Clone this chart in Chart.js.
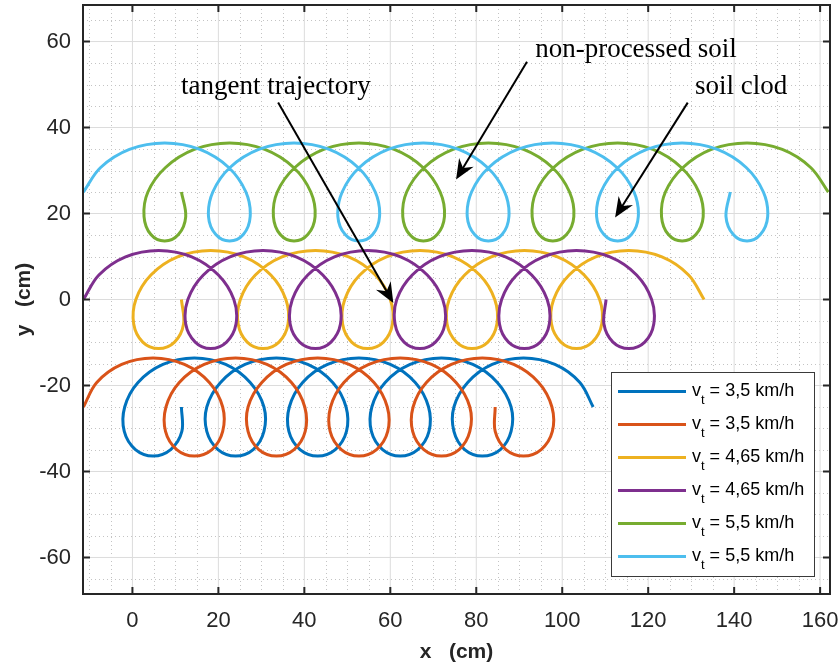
<!DOCTYPE html>
<html>
<head>
<meta charset="utf-8">
<title>Blade trajectories</title>
<script src="https://cdn.jsdelivr.net/npm/chart.js@4/dist/chart.umd.min.js"></script>
<style>
  html, body { margin: 0; padding: 0; background: #fff; }
  #wrap { width: 840px; height: 667px; }
</style>
</head>
<body>
<div id="wrap"><canvas id="chart" width="840" height="667"></canvas></div>
<script>
// tractor speed for each curve (legend text)
const speedLabels = ["3,5", "3,5", "4,65", "4,65", "5,5", "5,5"];
const colors = ["#0072BD", "#D95319", "#EDB120", "#7E2F8E", "#77AC30", "#4DBEEE"];

const xTicks = [0, 20, 40, 60, 80, 100, 120, 140, 160];
const yTicks = [-60, -40, -20, 0, 20, 40, 60];

// points (cm), 12 per blade turn
const blueX = [
  11.4, 11.5, 8.9, 4.8, 0.7, -1.9, -1.8, 1.3, 7.1, 14.4, 21.7, 27.4,
  30.6, 30.6, 28.1, 24.0, 19.9, 17.3, 17.3, 20.5, 26.2, 33.5, 40.8, 46.6,
  49.7, 49.8, 47.2, 43.1, 39.0, 36.4, 36.5, 39.6, 45.4, 52.7, 60.0, 65.8,
  68.9, 69.0, 66.4, 62.3, 58.2, 55.6, 55.7, 58.8, 64.6, 71.9, 79.2, 84.9,
  88.1, 88.1, 85.6, 81.4, 77.3, 74.8, 74.8, 78.0, 83.7, 91.0, 98.3, 104.1,
  107.2];
const blueY = [
  -25, -30.7, -34.9, -36.4, -34.9, -30.7, -25, -19.3, -15.1, -13.6, -15.1, -19.3,
  -25, -30.7, -34.9, -36.4, -34.9, -30.7, -25, -19.3, -15.1, -13.6, -15.1, -19.3,
  -25, -30.7, -34.9, -36.4, -34.9, -30.7, -25, -19.3, -15.1, -13.6, -15.1, -19.3,
  -25, -30.7, -34.9, -36.4, -34.9, -30.7, -25, -19.3, -15.1, -13.6, -15.1, -19.3,
  -25, -30.7, -34.9, -36.4, -34.9, -30.7, -25, -19.3, -15.1, -13.6, -15.1, -19.3,
  -25];

const orangeX = [
  -11.4, -8.3, -2.5, 4.8, 12.1, 17.9, 21.0, 21.0, 18.5, 14.4, 10.3, 7.7,
  7.8, 10.9, 16.7, 24.0, 31.3, 37.0, 40.1, 40.2, 37.6, 33.5, 29.4, 26.9,
  26.9, 30.1, 35.8, 43.1, 50.4, 56.2, 59.3, 59.4, 56.8, 52.7, 48.6, 46.0,
  46.1, 49.2, 55.0, 62.3, 69.6, 75.3, 78.5, 78.5, 76.0, 71.9, 67.8, 65.2,
  65.3, 68.4, 74.2, 81.4, 88.7, 94.5, 97.6, 97.7, 95.1, 91.0, 86.9, 84.4,
  84.4];
const orangeY = [
  -25, -19.3, -15.1, -13.6, -15.1, -19.3, -25, -30.7, -34.9, -36.4, -34.9, -30.7,
  -25, -19.3, -15.1, -13.6, -15.1, -19.3, -25, -30.7, -34.9, -36.4, -34.9, -30.7,
  -25, -19.3, -15.1, -13.6, -15.1, -19.3, -25, -30.7, -34.9, -36.4, -34.9, -30.7,
  -25, -19.3, -15.1, -13.6, -15.1, -19.3, -25, -30.7, -34.9, -36.4, -34.9, -30.7,
  -25, -19.3, -15.1, -13.6, -15.1, -19.3, -25, -30.7, -34.9, -36.4, -34.9, -30.7,
  -25];

const yellowX = [
  11.4, 11.9, 9.8, 6.1, 2.4, 0.3, 0.8, 4.3, 10.5, 18.2, 26.0, 32.2,
  35.7, 36.2, 34.1, 30.4, 26.7, 24.6, 25.1, 28.6, 34.8, 42.6, 50.3, 56.5,
  60.0, 60.5, 58.4, 54.7, 51.0, 48.9, 49.4, 52.9, 59.1, 66.9, 74.6, 80.8,
  84.3, 84.8, 82.7, 79.0, 75.4, 73.2, 73.7, 77.3, 83.5, 91.2, 98.9, 105.1,
  108.7, 109.2, 107.0, 103.3, 99.7, 97.5, 98.0, 101.6, 107.8, 115.5, 123.2, 129.4,
  133.0];
const yellowY = [
  0, -5.7, -9.9, -11.4, -9.9, -5.7, 0, 5.7, 9.9, 11.4, 9.9, 5.7,
  0, -5.7, -9.9, -11.4, -9.9, -5.7, 0, 5.7, 9.9, 11.4, 9.9, 5.7,
  0, -5.7, -9.9, -11.4, -9.9, -5.7, 0, 5.7, 9.9, 11.4, 9.9, 5.7,
  0, -5.7, -9.9, -11.4, -9.9, -5.7, 0, 5.7, 9.9, 11.4, 9.9, 5.7,
  0, -5.7, -9.9, -11.4, -9.9, -5.7, 0, 5.7, 9.9, 11.4, 9.9, 5.7,
  0];

const purpleX = [
  -11.4, -7.8, -1.6, 6.1, 13.8, 20.0, 23.6, 24.1, 21.9, 18.2, 14.6, 12.4,
  12.9, 16.5, 22.7, 30.4, 38.1, 44.3, 47.9, 48.4, 46.2, 42.6, 38.9, 36.7,
  37.2, 40.8, 47.0, 54.7, 62.4, 68.6, 72.2, 72.7, 70.5, 66.9, 63.2, 61.1,
  61.5, 65.1, 71.3, 79.0, 86.8, 92.9, 96.5, 97.0, 94.9, 91.2, 87.5, 85.4,
  85.9, 89.4, 95.6, 103.3, 111.1, 117.3, 120.8, 121.3, 119.2, 115.5, 111.8, 109.7,
  110.2];
const purpleY = [
  0, 5.7, 9.9, 11.4, 9.9, 5.7, 0, -5.7, -9.9, -11.4, -9.9, -5.7,
  0, 5.7, 9.9, 11.4, 9.9, 5.7, 0, -5.7, -9.9, -11.4, -9.9, -5.7,
  0, 5.7, 9.9, 11.4, 9.9, 5.7, 0, -5.7, -9.9, -11.4, -9.9, -5.7,
  0, 5.7, 9.9, 11.4, 9.9, 5.7, 0, -5.7, -9.9, -11.4, -9.9, -5.7,
  0, 5.7, 9.9, 11.4, 9.9, 5.7, 0, -5.7, -9.9, -11.4, -9.9, -5.7,
  0];

const greenX = [
  11.4, 12.4, 10.7, 7.5, 4.3, 2.7, 3.6, 7.7, 14.4, 22.6, 30.8, 37.5,
  41.5, 42.5, 40.8, 37.6, 34.4, 32.8, 33.7, 37.8, 44.5, 52.7, 60.9, 67.6,
  71.6, 72.6, 70.9, 67.7, 64.5, 62.9, 63.8, 67.9, 74.6, 82.8, 91.0, 97.7,
  101.7, 102.7, 101.0, 97.8, 94.6, 93.0, 93.9, 98.0, 104.7, 112.9, 121.1, 127.7,
  131.8, 132.8, 131.1, 127.9, 124.7, 123.1, 124.0, 128.1, 134.7, 143.0, 151.2, 157.8,
  161.9];
const greenY = [
  25, 19.3, 15.1, 13.6, 15.1, 19.3, 25, 30.7, 34.9, 36.4, 34.9, 30.7,
  25, 19.3, 15.1, 13.6, 15.1, 19.3, 25, 30.7, 34.9, 36.4, 34.9, 30.7,
  25, 19.3, 15.1, 13.6, 15.1, 19.3, 25, 30.7, 34.9, 36.4, 34.9, 30.7,
  25, 19.3, 15.1, 13.6, 15.1, 19.3, 25, 30.7, 34.9, 36.4, 34.9, 30.7,
  25, 19.3, 15.1, 13.6, 15.1, 19.3, 25, 30.7, 34.9, 36.4, 34.9, 30.7,
  25];

const cyanX = [
  -11.4, -7.4, -0.7, 7.5, 15.7, 22.4, 26.4, 27.4, 25.8, 22.6, 19.4, 17.7,
  18.7, 22.7, 29.4, 37.6, 45.8, 52.5, 56.5, 57.5, 55.9, 52.7, 49.5, 47.8,
  48.8, 52.8, 59.5, 67.7, 75.9, 82.6, 86.6, 87.6, 86.0, 82.8, 79.6, 77.9,
  78.9, 82.9, 89.6, 97.8, 106.0, 112.7, 116.7, 117.7, 116.1, 112.9, 109.7, 108.0,
  109.0, 113.0, 119.7, 127.9, 136.1, 142.8, 146.8, 147.8, 146.1, 143.0, 139.8, 138.1,
  139.1];
const cyanY = [
  25, 30.7, 34.9, 36.4, 34.9, 30.7, 25, 19.3, 15.1, 13.6, 15.1, 19.3,
  25, 30.7, 34.9, 36.4, 34.9, 30.7, 25, 19.3, 15.1, 13.6, 15.1, 19.3,
  25, 30.7, 34.9, 36.4, 34.9, 30.7, 25, 19.3, 15.1, 13.6, 15.1, 19.3,
  25, 30.7, 34.9, 36.4, 34.9, 30.7, 25, 19.3, 15.1, 13.6, 15.1, 19.3,
  25, 30.7, 34.9, 36.4, 34.9, 30.7, 25, 19.3, 15.1, 13.6, 15.1, 19.3,
  25];

const seriesX = [blueX, orangeX, yellowX, purpleX, greenX, cyanX];
const seriesY = [blueY, orangeY, yellowY, purpleY, greenY, cyanY];

// text arrows: label position and arrow start/tip in data units
const notes = [
  { text: "tangent trajectory", tx: 11.3, ty: 47.9, x1: 33.9, y1: 45.8, x2: 60.7, y2: -0.8 },
  { text: "non-processed soil", tx: 93.7, ty: 56.4, x1: 91.8, y1: 55.3, x2: 75.3, y2: 27.9 },
  { text: "soil clod", tx: 130.9, ty: 47.7, x1: 129.2, y1: 45.8, x2: 112.3, y2: 19.1 }
];

const AXIS = "#262626";
const SANS = "'Liberation Sans', Arial, Helvetica, sans-serif";
const SERIF = "'Liberation Serif', 'Times New Roman', serif";

const gridPlugin = {
  id: "matlabGrid",
  beforeDatasetsDraw(chart) {
    const { ctx, chartArea: a, scales: { x, y } } = chart;
    ctx.save();
    ctx.beginPath();
    ctx.rect(a.left, a.top, a.right - a.left, a.bottom - a.top);
    ctx.clip();
    // minor dotted grid
    ctx.strokeStyle = "#c4c4c4";
    ctx.lineWidth = 1;
    ctx.setLineDash([1, 3]);
    for (let v = -10; v <= 162; v += 5) {
      if (v % 20 === 0) continue;
      const px = Math.round(x.getPixelForValue(v)) + 0.5;
      ctx.beginPath(); ctx.moveTo(px, a.top); ctx.lineTo(px, a.bottom); ctx.stroke();
    }
    for (let v = -65; v <= 65; v += 5) {
      if (v % 20 === 0) continue;
      const py = Math.round(y.getPixelForValue(v)) + 0.5;
      ctx.beginPath(); ctx.moveTo(a.left, py); ctx.lineTo(a.right, py); ctx.stroke();
    }
    // major grid
    ctx.setLineDash([]);
    ctx.strokeStyle = "#dcdcdc";
    xTicks.forEach(v => {
      const px = x.getPixelForValue(v);
      ctx.beginPath(); ctx.moveTo(px, a.top); ctx.lineTo(px, a.bottom); ctx.stroke();
    });
    yTicks.forEach(v => {
      const py = y.getPixelForValue(v);
      ctx.beginPath(); ctx.moveTo(a.left, py); ctx.lineTo(a.right, py); ctx.stroke();
    });
    ctx.restore();
  },
  afterDatasetsDraw(chart) {
    const { ctx, chartArea: a, scales: { x, y } } = chart;
    ctx.save();
    ctx.strokeStyle = AXIS;
    ctx.lineWidth = 2;
    ctx.strokeRect(a.left, a.top, a.right - a.left, a.bottom - a.top);
    const tl = 7;
    ctx.beginPath();
    xTicks.forEach(v => {
      const px = x.getPixelForValue(v);
      ctx.moveTo(px, a.bottom); ctx.lineTo(px, a.bottom - tl);
      ctx.moveTo(px, a.top); ctx.lineTo(px, a.top + tl);
    });
    yTicks.forEach(v => {
      const py = y.getPixelForValue(v);
      ctx.moveTo(a.left, py); ctx.lineTo(a.left + tl, py);
      ctx.moveTo(a.right, py); ctx.lineTo(a.right - tl, py);
    });
    ctx.stroke();
    ctx.restore();
  },
  afterDraw(chart) {
    const { ctx, chartArea: a, scales: { x, y } } = chart;
    ctx.save();

    // axis titles
    ctx.fillStyle = AXIS;
    ctx.font = "bold 21px " + SANS;
    ctx.textAlign = "center";
    ctx.textBaseline = "middle";
    ctx.fillText("x   (cm)", (a.left + a.right) / 2, 652);
    ctx.translate(24, (a.top + a.bottom) / 2);
    ctx.rotate(-Math.PI / 2);
    ctx.fillText("y   (cm)", 0, 0);
    ctx.setTransform(1, 0, 0, 1, 0, 0);

    // annotations
    ctx.fillStyle = "#000";
    ctx.strokeStyle = "#000";
    ctx.font = "27px " + SERIF;
    ctx.textAlign = "left";
    ctx.textBaseline = "alphabetic";
    notes.forEach(n => {
      ctx.fillText(n.text, x.getPixelForValue(n.tx), y.getPixelForValue(n.ty));
      const x1 = x.getPixelForValue(n.x1), y1 = y.getPixelForValue(n.y1);
      const x2 = x.getPixelForValue(n.x2), y2 = y.getPixelForValue(n.y2);
      const len = Math.hypot(x2 - x1, y2 - y1);
      const ux = (x2 - x1) / len, uy = (y2 - y1) / len;
      const L = 20, W = 8.5;
      ctx.lineWidth = 2;
      ctx.beginPath();
      ctx.moveTo(x1, y1);
      ctx.lineTo(x2 - ux * L * 0.6, y2 - uy * L * 0.6);
      ctx.stroke();
      ctx.beginPath();
      ctx.moveTo(x2, y2);
      ctx.lineTo(x2 - ux * L - uy * W, y2 - uy * L + ux * W);
      ctx.lineTo(x2 - ux * L * 0.68, y2 - uy * L * 0.68);
      ctx.lineTo(x2 - ux * L + uy * W, y2 - uy * L - ux * W);
      ctx.closePath();
      ctx.fill();
    });

    // legend
    const bx = a.right - 219, by = a.bottom - 222, bw = 203, bh = 204;
    ctx.fillStyle = "#fff";
    ctx.fillRect(bx, by, bw, bh);
    ctx.strokeStyle = "#3a3a3a";
    ctx.lineWidth = 1;
    ctx.strokeRect(bx + 0.5, by + 0.5, bw, bh);
    speedLabels.forEach((s, i) => {
      const ly = by + 19.5 + i * 33;
      ctx.strokeStyle = colors[i];
      ctx.lineWidth = 3;
      ctx.beginPath();
      ctx.moveTo(bx + 7, ly); ctx.lineTo(bx + 75, ly);
      ctx.stroke();
      ctx.fillStyle = "#000";
      let tx = bx + 81;
      ctx.font = "18px " + SANS;
      ctx.fillText("v", tx, ly + 4);
      tx += ctx.measureText("v").width;
      ctx.font = "13px " + SANS;
      ctx.fillText("t", tx, ly + 12);
      tx += ctx.measureText("t").width;
      ctx.font = "18px " + SANS;
      ctx.fillText(" = " + s + " km/h", tx, ly + 4);
    });
    ctx.restore();
  }
};

const datasets = seriesX.map((xs, i) => ({
  label: "v_t = " + speedLabels[i] + " km/h",
  data: xs.map((v, j) => ({ x: v, y: seriesY[i][j] })),
  showLine: true,
  borderColor: colors[i],
  backgroundColor: colors[i],
  borderWidth: 3,
  pointRadius: 0,
  tension: 0.35,
  fill: false,
  order: 5 - i
}));

const tickFont = { family: SANS, size: 22 };

new Chart(document.getElementById("chart"), {
  type: "scatter",
  data: { datasets },
  options: {
    responsive: false,
    animation: false,
    devicePixelRatio: 1,
    layout: { padding: { top: 5, right: 10, left: 0, bottom: 0 } },
    plugins: { legend: { display: false }, tooltip: { enabled: false } },
    scales: {
      x: {
        type: "linear",
        min: -11.5,
        max: 162.3,
        afterBuildTicks: ax => { ax.ticks = xTicks.map(v => ({ value: v })); },
        afterFit: sc => { sc.height = 73; sc.paddingLeft = 0; sc.paddingRight = 0; },
        grid: { display: false, drawTicks: false },
        border: { display: false },
        ticks: { font: tickFont, color: AXIS, padding: 14, maxRotation: 0, autoSkip: false }
      },
      y: {
        type: "linear",
        min: -68.5,
        max: 68.5,
        afterBuildTicks: ax => { ax.ticks = yTicks.map(v => ({ value: v })); },
        afterFit: sc => { sc.width = 83; sc.paddingTop = 0; sc.paddingBottom = 0; },
        grid: { display: false, drawTicks: false },
        border: { display: false },
        ticks: { font: tickFont, color: AXIS, padding: 12, autoSkip: false }
      }
    }
  },
  plugins: [gridPlugin]
});
</script>
</body>
</html>
